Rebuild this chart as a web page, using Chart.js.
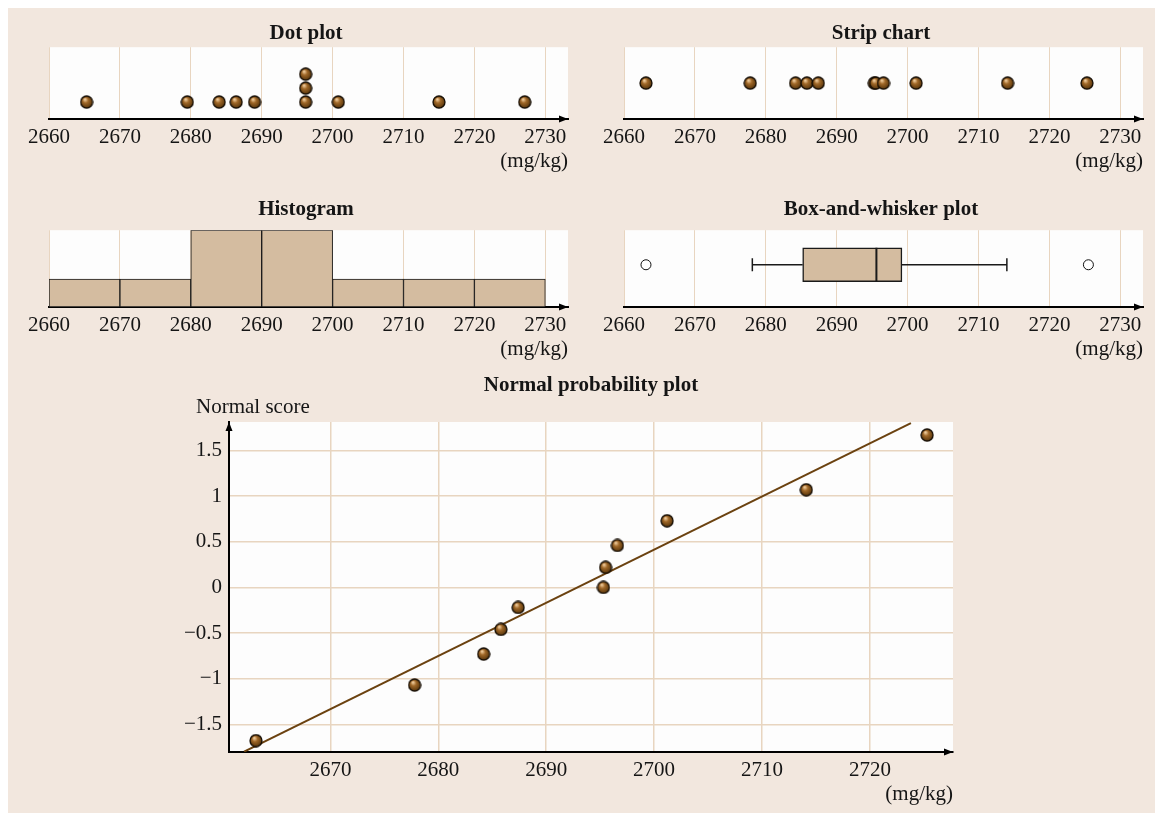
<!DOCTYPE html>
<html>
<head>
<meta charset="utf-8">
<script src="https://cdn.jsdelivr.net/npm/chart.js@4.4.0/dist/chart.umd.min.js"></script>
<style>
  html, body { margin: 0; padding: 0; background: #fff; overflow: hidden; }
  body { width: 1155px; height: 813px; position: relative; }
  #panel { position: absolute; left: 8px; top: 8px; width: 1147px; height: 805px; background: #f2e7de; }
  .box { position: absolute; }
</style>
</head>
<body>
<div id="panel"></div>
<div class="box" style="left:22px;top:10px;width:568px;height:168px"><canvas id="dotChart"></canvas></div>
<div class="box" style="left:597px;top:10px;width:568px;height:168px"><canvas id="stripChart"></canvas></div>
<div class="box" style="left:22px;top:186px;width:568px;height:180px"><canvas id="histChart"></canvas></div>
<div class="box" style="left:597px;top:186px;width:568px;height:180px"><canvas id="boxChart"></canvas></div>
<div class="box" style="left:179px;top:362px;width:782px;height:449px"><canvas id="normalChart"></canvas></div>
<script>
// dot plot: rounded values and the stack level of each dot
var dotValues = [2665.3, 2679.5, 2684.0, 2686.4, 2689.0, 2696.2, 2696.2, 2696.2, 2700.8, 2715.0, 2727.1];
var dotLevels = [1, 1, 1, 1, 1, 1, 2, 3, 1, 1, 1];

// measured values (mg/kg), used by the strip chart and the normal plot
var sample = [2663.1, 2677.8, 2684.2, 2685.8, 2687.4, 2695.3, 2695.5, 2696.6, 2701.2, 2714.1, 2725.3];
var normalScores = [-1.68, -1.07, -0.73, -0.46, -0.22, 0, 0.22, 0.46, 0.73, 1.07, 1.67];

// histogram bins (centres) and counts
var histBins = [2665, 2675, 2685, 2695, 2705, 2715, 2725];
var histCounts = [1, 1, 3, 3, 1, 1, 1];

// box plot: lower whisker, q1, median, q3, upper whisker
var boxSummary = [2678.1, 2685.2, 2695.6, 2699.2, 2714.0];
var boxOutliers = [2663.1, 2725.5];

// fitted line of the normal plot (end points)
var fitX = [2662.0, 2723.8];
var fitY = [-1.80, 1.80];

// tick labels
var topTicks = [2660, 2670, 2680, 2690, 2700, 2710, 2720, 2730];
var normalXTicks = [2670, 2680, 2690, 2700, 2710, 2720];
var normalYTicks = [-1.5, -1, -0.5, 0, 0.5, 1, 1.5];

var serif = "'Liberation Serif', 'Times New Roman', serif";
var gridColor = '#e8d5c0';
var tanFill = '#d4bca0';
var ink = '#151515';

Chart.defaults.font.family = serif;
Chart.defaults.font.size = 21;
Chart.defaults.color = ink;
Chart.defaults.animation = false;
Chart.defaults.plugins.legend.display = false;
Chart.defaults.plugins.tooltip.enabled = false;

function makeSphere(d) {
    var c = document.createElement('canvas');
    c.width = d; c.height = d;
    var g = c.getContext('2d');
    var r = d / 2;
    var grad = g.createRadialGradient(r * 0.75, r * 0.6, 0.5, r, r, r);
    grad.addColorStop(0, '#f0cc9c');
    grad.addColorStop(0.35, '#a06828');
    grad.addColorStop(0.8, '#633d10');
    grad.addColorStop(1, '#362004');
    g.fillStyle = grad;
    g.beginPath();
    g.arc(r, r, r - 1, 0, Math.PI * 2);
    g.fill();
    g.lineWidth = 1.3;
    g.strokeStyle = '#140c03';
    g.stroke();
    return c;
}
var sphere = makeSphere(14);

// white plotting area
var plotBackground = {
    id: 'plotBackground',
    beforeDraw: function (chart) {
        var a = chart.chartArea, ctx = chart.ctx;
        ctx.save();
        ctx.fillStyle = '#fdfdfd';
        ctx.fillRect(a.left, a.top, a.right - a.left, a.bottom - a.top);
        ctx.restore();
    }
};

// arrow heads on the axes
var axisArrows = {
    id: 'axisArrows',
    afterDraw: function (chart, args, opts) {
        var a = chart.chartArea, ctx = chart.ctx;
        ctx.save();
        ctx.fillStyle = '#000';
        ctx.beginPath();
        ctx.moveTo(a.right, a.bottom);
        ctx.lineTo(a.right - 9, a.bottom - 3.5);
        ctx.lineTo(a.right - 9, a.bottom + 3.5);
        ctx.closePath();
        ctx.fill();
        if (opts.yArrow) {
            ctx.beginPath();
            ctx.moveTo(a.left, a.top);
            ctx.lineTo(a.left - 3.5, a.top + 9);
            ctx.lineTo(a.left + 3.5, a.top + 9);
            ctx.closePath();
            ctx.fill();
        }
        ctx.restore();
    }
};

// title and y label of the normal plot
var normalLabels = {
    id: 'normalLabels',
    afterDraw: function (chart) {
        var a = chart.chartArea, ctx = chart.ctx;
        ctx.save();
        ctx.fillStyle = ink;
        ctx.textBaseline = 'middle';
        ctx.textAlign = 'center';
        ctx.font = 'bold 21px ' + serif;
        ctx.fillText('Normal probability plot', (a.left + a.right) / 2, a.top - 36);
        ctx.textAlign = 'left';
        ctx.font = '21px ' + serif;
        ctx.fillText('Normal score', a.left - 33, a.top - 15);
        ctx.restore();
    }
};

function xAxis(min, max, ticks, gridWidth) {
    return {
        type: 'linear', min: min, max: max, offset: false,
        afterBuildTicks: function (scale) {
            scale.ticks = ticks.map(function (v) { return { value: v }; });
        },
        afterFit: function (scale) { scale.height = 59; },
        grid: { color: gridColor, lineWidth: gridWidth, drawTicks: false, offset: false },
        border: { display: true, color: '#000', width: 2 },
        ticks: { padding: 6, maxRotation: 0, autoSkip: false, callback: function (v) { return String(v); } },
        title: { display: true, text: '(mg/kg)', align: 'end', padding: { top: 0, bottom: 4 } }
    };
}

function topOptions(title, padBottom, yMin, yMax) {
    return {
        responsive: true,
        maintainAspectRatio: false,
        layout: { padding: { left: 22, right: 22, top: 0, bottom: 0 } },
        plugins: {
            title: { display: true, text: title, color: ink, font: { weight: 'bold', size: 21 }, padding: { top: 11, bottom: padBottom } }
        },
        scales: {
            x: xAxis(2660, 2733.2, topTicks, 1),
            y: { type: 'linear', display: false, min: yMin, max: yMax }
        }
    };
}

// Dot plot
new Chart(document.getElementById('dotChart'), {
    type: 'scatter',
    data: {
        datasets: [{
            data: dotValues.map(function (v, i) { return { x: v, y: dotLevels[i] }; }),
            pointStyle: sphere, pointRadius: 7
        }]
    },
    options: topOptions('Dot plot', 1, -0.214, 4.93),
    plugins: [plotBackground, axisArrows]
});

// Strip chart
new Chart(document.getElementById('stripChart'), {
    type: 'scatter',
    data: {
        datasets: [{
            data: sample.map(function (v) { return { x: v, y: 0 }; }),
            pointStyle: sphere, pointRadius: 7
        }]
    },
    options: topOptions('Strip chart', 1, -1, 1),
    plugins: [plotBackground, axisArrows]
});

// Histogram
new Chart(document.getElementById('histChart'), {
    type: 'bar',
    data: {
        datasets: [{
            data: histBins.map(function (b, i) { return { x: b, y: histCounts[i] }; }),
            backgroundColor: tanFill,
            borderColor: '#1a1a1a',
            borderWidth: 1,
            borderSkipped: false,
            barPercentage: 1,
            categoryPercentage: 1,
            base: -0.14
        }]
    },
    options: topOptions('Histogram', 8, -0.14, 3),
    plugins: [plotBackground, axisArrows]
});

// Box-and-whisker plot (first dataset is drawn on top)
new Chart(document.getElementById('boxChart'), {
    type: 'scatter',
    data: {
        datasets: [
            {
                data: boxOutliers.map(function (v) { return { x: v, y: 0 }; }),
                pointStyle: 'circle', pointRadius: 5,
                backgroundColor: '#fff', borderColor: '#111', borderWidth: 1
            },
            {
                // median mark
                data: [{ x: boxSummary[2], y: 0 }],
                pointStyle: 'line', rotation: 90, pointRadius: 17,
                borderColor: '#1a1a1a', borderWidth: 2
            },
            {
                type: 'bar', indexAxis: 'y',
                data: [{ x: [boxSummary[1], boxSummary[3]], y: 0 }],
                backgroundColor: tanFill, borderColor: '#1a1a1a', borderWidth: 1.5,
                borderSkipped: false, barThickness: 34
            },
            {
                // whisker caps
                data: [{ x: boxSummary[0], y: 0 }, { x: boxSummary[4], y: 0 }],
                pointStyle: 'line', rotation: 90, pointRadius: 6.5,
                borderColor: '#1a1a1a', borderWidth: 1.5
            },
            {
                type: 'line',
                data: [{ x: boxSummary[0], y: 0 }, { x: boxSummary[1], y: 0 }],
                borderColor: '#1a1a1a', borderWidth: 1.5, pointRadius: 0, fill: false
            },
            {
                type: 'line',
                data: [{ x: boxSummary[3], y: 0 }, { x: boxSummary[4], y: 0 }],
                borderColor: '#1a1a1a', borderWidth: 1.5, pointRadius: 0, fill: false
            }
        ]
    },
    options: topOptions('Box-and-whisker plot', 8, -1.5, 1),
    plugins: [plotBackground, axisArrows]
});

// Normal probability plot
new Chart(document.getElementById('normalChart'), {
    type: 'scatter',
    data: {
        datasets: [
            {
                data: sample.map(function (v, i) { return { x: v, y: normalScores[i] }; }),
                pointStyle: sphere, pointRadius: 7
            },
            {
                type: 'line',
                data: [{ x: fitX[0], y: fitY[0] }, { x: fitX[1], y: fitY[1] }],
                borderColor: '#6b4210', borderWidth: 2, pointRadius: 0, fill: false
            }
        ]
    },
    options: {
        responsive: true,
        maintainAspectRatio: false,
        layout: { padding: { left: 0, right: 0, top: 60, bottom: 0 } },
        plugins: { axisArrows: { yArrow: true } },
        scales: {
            x: xAxis(2660.6, 2727.7, normalXTicks, 1.5),
            y: {
                type: 'linear', min: -1.804, max: 1.813,
                afterBuildTicks: function (scale) {
                    scale.ticks = normalYTicks.map(function (v) { return { value: v }; });
                },
                afterFit: function (scale) { scale.width = 50; },
                grid: { color: gridColor, lineWidth: 1.5, drawTicks: false },
                border: { display: true, color: '#000', width: 2 },
                ticks: {
                    padding: 7, autoSkip: false,
                    callback: function (v) { return String(v).replace('-', '\u2212'); }
                }
            }
        }
    },
    plugins: [plotBackground, axisArrows, normalLabels]
});
</script>
</body>
</html>
